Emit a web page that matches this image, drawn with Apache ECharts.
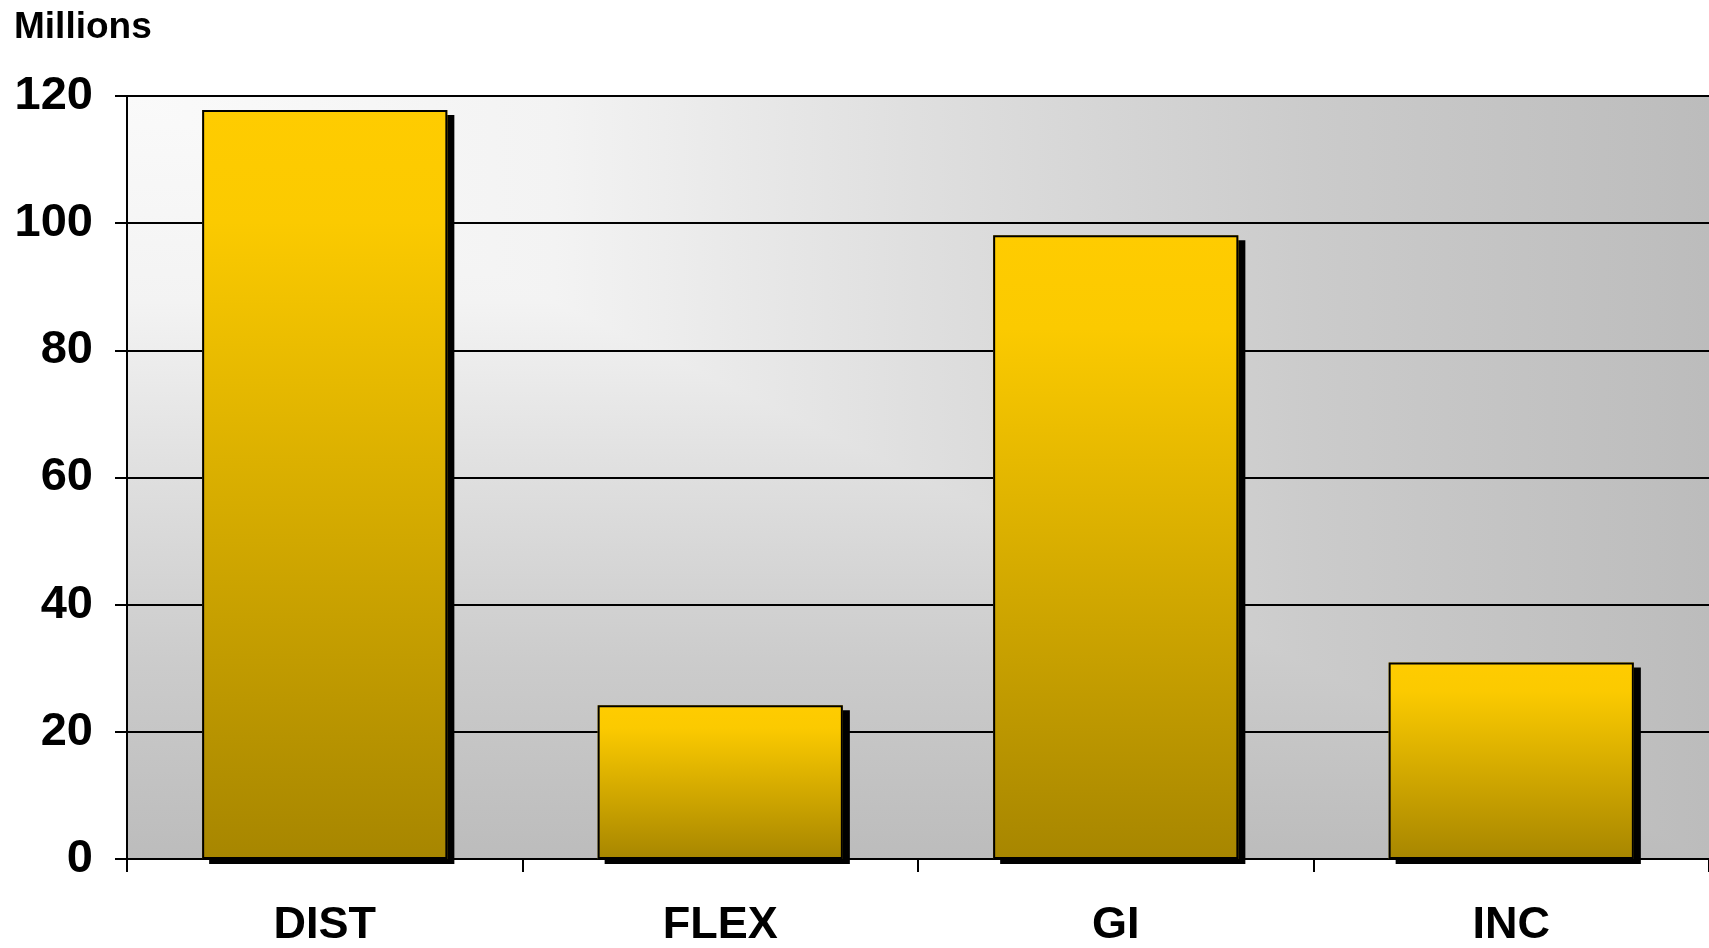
<!DOCTYPE html>
<html>
<head>
<meta charset="utf-8">
<script src="https://cdn.jsdelivr.net/npm/echarts@6/dist/echarts.min.js"></script>
<style>
html,body{margin:0;padding:0;background:#fff;}
#chart{width:1709px;height:948px;}
</style>
</head>
<body>
<div id="chart"></div>
<script>
const categories = ['DIST', 'FLEX', 'GI', 'INC'];
const values = [117.8, 24.2, 98.1, 30.9];
const yTicks = { min: 0, max: 120, interval: 20 };
const unitLabel = 'Millions';

const chart = echarts.init(document.getElementById('chart'));
const font = 'Liberation Sans, Arial, sans-serif';
const bgStops = [
  { offset: 0, color: '#FAFAFA' },
  { offset: 0.27, color: '#F3F3F3' },
  { offset: 0.5, color: '#DFDFDF' },
  { offset: 0.75, color: '#CBCBCB' },
  { offset: 1, color: '#BCBCBC' }
];
chart.setOption({
  animation: false,
  title: {
    text: unitLabel, left: 9, top: 4,
    textStyle: { fontFamily: font, fontWeight: 'bold', fontSize: 37, color: '#000' }
  },
  grid: { left: 127, top: 96, bottom: 87, width: 1585, show: false },
  xAxis: {
    type: 'category', data: categories,
    axisLine: { lineStyle: { color: '#000', width: 2 } },
    axisTick: { show: true, length: 13, lineStyle: { color: '#000', width: 2 } },
    axisLabel: { fontFamily: font, fontWeight: 'bold', fontSize: 45, color: '#000', margin: 44 }
  },
  yAxis: {
    type: 'value', min: yTicks.min, max: yTicks.max, interval: yTicks.interval,
    axisLine: { show: true, lineStyle: { color: '#000', width: 2 } },
    axisTick: { show: true, length: 12, lineStyle: { color: '#000', width: 2 } },
    splitLine: { show: true, lineStyle: { color: '#000', width: 2 } },
    axisLabel: { fontFamily: font, fontWeight: 'bold', fontSize: 47, color: '#000', margin: 34 }
  },
  series: [{
    type: 'bar', data: values, barWidth: '62%', z: 2,
    itemStyle: {
      borderWidth: 0,
      shadowColor: '#000', shadowBlur: 0, shadowOffsetX: 7, shadowOffsetY: 5,
      color: {
        type: 'linear', x: 0, y: 0, x2: 0, y2: 1,
        colorStops: [
          { offset: 0, color: '#FFCC00' },
          { offset: 0.15, color: '#FBCA00' },
          { offset: 1, color: '#A78600' }
        ]
      }
    }
  }, {
    type: 'bar', data: values, barWidth: '62%', barGap: '-100%', z: 3, silent: true,
    itemStyle: { color: 'rgba(0,0,0,0)', borderColor: '#000', borderWidth: 2 }
  }]
});

// "from corner" rectangular gradient background for the plot area
const rect = chart.getModel().getComponent('grid').coordinateSystem.getRect();
chart.setOption({
  graphic: [{
    type: 'rect', z: -20, silent: true,
    shape: { x: rect.x, y: rect.y, width: rect.width, height: rect.height },
    style: { fill: { type: 'linear', x: 0, y: 0, x2: 1, y2: 0, colorStops: bgStops } }
  }, {
    type: 'polygon', z: -10, silent: true,
    shape: { points: [[rect.x, rect.y], [rect.x, rect.y + rect.height], [rect.x + rect.width, rect.y + rect.height]] },
    style: { fill: { type: 'linear', x: 0, y: 0, x2: 0, y2: 1, colorStops: bgStops } }
  }]
});
</script>
</body>
</html>
